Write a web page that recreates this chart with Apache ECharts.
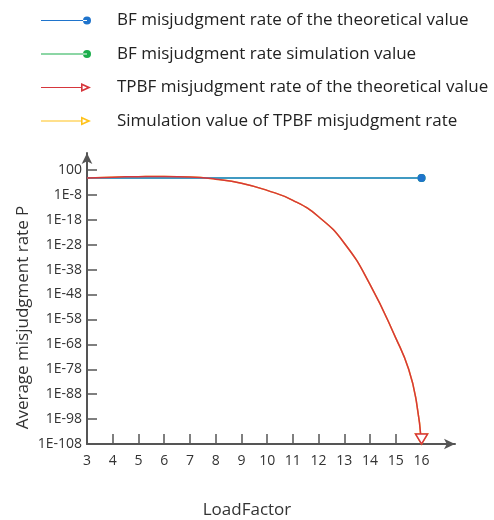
<!DOCTYPE html>
<html>
<head>
<meta charset="utf-8">
<script src="https://cdn.jsdelivr.net/npm/echarts@6/dist/echarts.min.js"></script>
<style>
  html, body { margin: 0; padding: 0; background: #fff; }
  #chart { width: 494px; height: 520px; }
</style>
</head>
<body>
<div id="chart"></div>
<script>
// load factor values (x) and log10 of the misjudgment rate (y)
const loadFactors = [3, 4, 5, 6, 7, 8, 9, 10, 11, 12, 13, 14, 15, 15.5, 15.8, 16];
const bfTheory = [-1.2, -1.2, -1.2, -1.2, -1.2, -1.2, -1.2, -1.2, -1.2, -1.2, -1.2, -1.2, -1.2, -1.2, -1.2, -1.2];
const bfSim = [-1.2, -1.2, -1.2, -1.2, -1.2, -1.2, -1.2, -1.2, -1.2, -1.2, -1.2, -1.2, -1.2, -1.2, -1.2, -1.2];
const tpbfTheory = [-1.2, -0.9, -0.7, -0.6, -0.8, -1.7, -3.3, -6.2, -10.2, -16.8, -27.4, -44, -65.5, -78, -91, -108];
const tpbfSim = [-1.2, -0.9, -0.7, -0.6, -0.8, -1.7, -3.3, -6.2, -10.2, -16.8, -27.4, -44, -65.5, -78, -91, -108];

const xTicks = [4, 5, 6, 7, 8, 9, 10, 11, 12, 13, 14, 15, 16];
const xLabels = [3, 4, 5, 6, 7, 8, 9, 10, 11, 12, 13, 14, 15, 16];
const yTicks = [-98, -88, -78, -68, -58, -48, -38, -28, -18, -8, 2];
const yLabels = [-108, -98, -88, -78, -68, -58, -48, -38, -28, -18, -8, 2];

const seriesNames = [
  'BF misjudgment rate of the theoretical value',
  'BF misjudgment rate simulation value',
  'TPBF misjudgment rate of the theoretical value',
  'Simulation value of TPBF misjudgment rate'
];

const FONT = '"Open Sans", sans-serif';
const circleIcon = 'path://M0,4.4 L46,4.4 L46,5.6 L0,5.6 Z M42,5 A4,4 0 1,0 50,5 A4,4 0 1,0 42,5 Z';
const triIcon = 'path://M0,4.4 L41,4.4 L41,5.6 L0,5.6 Z M40,0.5 L50,5 L40,9.5 Z M41.6,3.1 L41.6,6.9 L45.9,5 Z';

const pairs = ys => loadFactors.map((x, i) => [x, ys[i]]);
const lastOnly = size => (val, p) => (p.dataIndex === loadFactors.length - 1 ? size : 0);

const chart = echarts.init(document.getElementById('chart'));
chart.setOption({
  animation: false,
  textStyle: { fontFamily: FONT },
  legend: {
    orient: 'vertical',
    left: 41,
    top: 10,
    padding: 0,
    itemGap: 12.5,
    itemWidth: 50,
    itemHeight: 9,
    selectedMode: false,
    textStyle: { fontSize: 17, color: '#222', lineHeight: 21, padding: [0, 0, 0, 21] },
    data: [
      { name: seriesNames[0], icon: circleIcon, itemStyle: { color: '#1f74cc', borderWidth: 0 } },
      { name: seriesNames[1], icon: circleIcon, itemStyle: { color: '#1bae4c', borderWidth: 0 } },
      { name: seriesNames[2], icon: triIcon, itemStyle: { color: '#d6363c', borderWidth: 0 } },
      { name: seriesNames[3], icon: triIcon, itemStyle: { color: '#ffc21a', borderWidth: 0 } }
    ]
  },
  grid: { left: 87, right: 39, top: 153, bottom: 76, outerBoundsMode: 'none', containLabel: false },
  xAxis: {
    type: 'value',
    min: 3,
    max: 17.3,
    name: 'LoadFactor',
    nameLocation: 'middle',
    nameGap: 58,
    nameMoveOverlap: false,
    nameTextStyle: { fontSize: 17, color: '#333', padding: [0, 48, 0, 0] },
    axisLine: { onZero: false, lineStyle: { color: '#555', width: 2 }, symbol: ['none', 'arrow'], symbolSize: [8, 11] },
    axisTick: { show: true, inside: true, length: 10, customValues: xTicks, lineStyle: { color: '#555', width: 1.5 } },
    axisLabel: { customValues: xLabels, fontSize: 14, color: '#333', margin: 10 },
    splitLine: { show: false }
  },
  yAxis: {
    type: 'value',
    min: -108,
    max: 8.8,
    name: 'Average misjudgment rate P',
    nameLocation: 'middle',
    nameGap: 55,
    nameMoveOverlap: false,
    nameTextStyle: { fontSize: 17, color: '#333', padding: [0, 38, 0, 0] },
    axisLine: { onZero: false, lineStyle: { color: '#555', width: 2 }, symbol: ['none', 'arrow'], symbolSize: [8, 11] },
    axisTick: { show: true, inside: true, length: 10, customValues: yTicks, lineStyle: { color: '#555', width: 1.5 } },
    axisLabel: {
      customValues: yLabels,
      fontSize: 14,
      color: '#333',
      margin: 5,
      formatter: v => (v === 2 ? '100' : '1E' + v)
    },
    splitLine: { show: false }
  },
  series: [
    {
      name: seriesNames[1],
      type: 'line',
      z: 1,
      data: pairs(bfSim),
      lineStyle: { color: '#1bae4c', width: 1.5 },
      itemStyle: { color: '#1bae4c' },
      symbol: 'circle',
      showAllSymbol: true,
      symbolSize: lastOnly(8)
    },
    {
      name: seriesNames[3],
      type: 'line',
      z: 1,
      smooth: 0.5,
      data: pairs(tpbfSim),
      lineStyle: { color: '#ffc21a', width: 1.5 },
      itemStyle: { color: '#fff', borderColor: '#ffc21a', borderWidth: 1.5 },
      symbol: 'triangle',
      symbolRotate: 180,
      symbolOffset: [0, -5],
      showAllSymbol: true,
      symbolSize: lastOnly([12, 10])
    },
    {
      name: seriesNames[0],
      type: 'line',
      z: 3,
      data: pairs(bfTheory),
      lineStyle: { color: '#3b8fdc', width: 1.5 },
      itemStyle: { color: '#1f74cc' },
      symbol: 'circle',
      showAllSymbol: true,
      symbolSize: lastOnly(8)
    },
    {
      name: seriesNames[2],
      type: 'line',
      z: 3,
      smooth: 0.5,
      data: pairs(tpbfTheory),
      lineStyle: { color: '#d6363c', width: 1.5 },
      itemStyle: { color: '#fff', borderColor: '#d6363c', borderWidth: 1.5 },
      symbol: 'triangle',
      symbolRotate: 180,
      symbolOffset: [0, -5],
      showAllSymbol: true,
      symbolSize: lastOnly([12, 10])
    }
  ]
});
</script>
</body>
</html>
